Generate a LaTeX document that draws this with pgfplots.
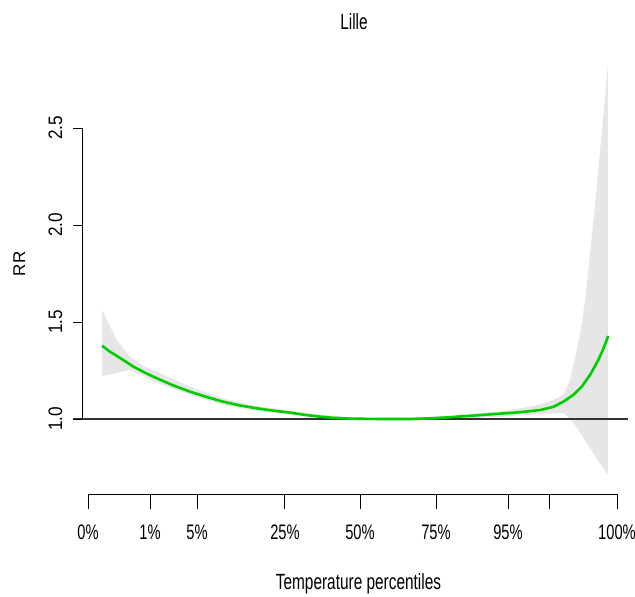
\documentclass[border=0pt]{standalone}
\usepackage{pgfplots}
\pgfplotsset{compat=1.18}
\usepgfplotslibrary{fillbetween}
\usepackage{fontspec}
\setmainfont{Liberation Sans}
\newfontfamily\narrowfont[FakeStretch=0.7]{Liberation Sans}
\newfontfamily\ticklabelfont[FakeStretch=0.88]{Liberation Sans}
\definecolor{bandgrey}{HTML}{E6E6E6}
\definecolor{curvegreen}{HTML}{00CD00}
\definecolor{refline}{HTML}{333333}

% relative risk curve (temperature, RR)
\pgfplotstableread{
T RR
-8.00 1.378
-7.43 1.347
-6.48 1.304
-5.76 1.270
-4.90 1.238
-4.09 1.210
-2.90 1.173
-1.71 1.141
-0.50 1.113
0.66 1.089
1.85 1.070
3.05 1.055
4.24 1.043
5.43 1.033
6.50 1.021
7.57 1.012
8.50 1.006
9.71 1.002
11.86 1.000
14.00 1.000
15.64 1.004
16.86 1.009
17.79 1.014
19.00 1.020
19.93 1.025
21.14 1.031
21.86 1.035
23.29 1.046
24.24 1.063
24.95 1.089
25.66 1.124
26.26 1.166
26.86 1.227
27.45 1.304
27.80 1.360
28.16 1.428
}\rrcurve

% upper confidence limit
\pgfplotstableread{
T RR
-8.00 1.562
-7.43 1.476
-6.95 1.407
-6.00 1.321
-5.07 1.275
-4.09 1.244
-1.71 1.166
0.66 1.106
3.05 1.067
5.43 1.043
7.57 1.022
9.71 1.008
11.86 1.004
14.00 1.006
16.14 1.014
18.29 1.026
20.43 1.040
21.86 1.055
23.29 1.075
24.21 1.098
24.93 1.124
25.43 1.200
25.79 1.320
26.14 1.430
26.50 1.610
26.86 1.850
27.21 2.100
27.57 2.380
27.86 2.600
28.14 2.830
}\rrupper

% lower confidence limit
\pgfplotstableread{
T RR
-8.00 1.222
-7.00 1.235
-6.00 1.253
-5.07 1.222
-4.09 1.187
-1.71 1.124
0.66 1.072
3.05 1.042
5.43 1.024
7.57 1.006
9.71 0.997
11.86 0.993
14.00 0.993
16.14 0.997
18.29 1.004
20.43 1.012
21.86 1.018
23.29 1.025
24.21 1.030
24.93 1.030
25.21 1.015
25.79 0.970
26.50 0.890
27.21 0.810
28.14 0.710
}\rrlower

\newcommand{\xlab}[2]{\node[anchor=base, inner sep=0pt,
  font=\narrowfont\fontsize{21bp}{24bp}\selectfont] at (axis cs:#1,0.3763) {#2};}
\newcommand{\ylab}[1]{\node[rotate=90, anchor=base, inner sep=0pt,
  font=\ticklabelfont\fontsize{19.5bp}{22bp}\selectfont] at (axis cs:-10.857,#1) {#1};}

\begin{document}
\begin{tikzpicture}
\begin{axis}[
  hide axis,
  scale only axis,
  width=546bp, height=444bp,
  xmin=-9.4286, xmax=29.5714,
  ymin=0.6134, ymax=2.9021,
  clip=false,
]
% confidence band
\addplot[name path=upper, draw=none, forget plot] table[x=T, y=RR] {\rrupper};
\addplot[name path=lower, draw=none, forget plot] table[x=T, y=RR] {\rrlower};
\addplot[fill=bandgrey, draw=none, forget plot] fill between[of=upper and lower];

% reference line at RR = 1
\addplot[refline, line width=1.4bp, forget plot] coordinates {(-10.071,1) (29.571,1)};

% RR curve
\addplot[curvegreen, line width=2.6bp, line join=round] table[x=T, y=RR] {\rrcurve};

% y axis
\draw[line width=1bp] (axis cs:-9.4286,1.0) -- (axis cs:-9.4286,2.5);
\pgfplotsinvokeforeach{1.0,1.5,2.0,2.5}{
  \draw[line width=1bp] (axis cs:-10.071,#1) -- (axis cs:-9.4286,#1);
}
\ylab{1.0}\ylab{1.5}\ylab{2.0}\ylab{2.5}
\node[rotate=90, anchor=base, inner sep=0pt,
  font=\fontsize{17bp}{20bp}\selectfont] at (axis cs:-13.5,1.799) {RR};

% x axis at percentile positions
\draw[line width=1bp] (axis cs:-9.0,0.6134) -- (axis cs:28.786,0.6134);
\pgfplotsinvokeforeach{-9.0,-4.571,-1.214,5.071,10.429,15.857,21.0,23.929,28.786}{
  \draw[line width=1bp] (axis cs:#1,0.6134) -- (axis cs:#1,0.5361);
}
\xlab{-9.0}{0\%}
\xlab{-4.571}{1\%}
\xlab{-1.214}{5\%}
\xlab{5.071}{25\%}
\xlab{10.429}{50\%}
\xlab{15.857}{75\%}
\xlab{21.0}{95\%}
\xlab{28.786}{100\%}
\node[anchor=base, inner sep=0pt,
  font=\narrowfont\fontsize{22bp}{26bp}\selectfont] at (axis cs:10.32,0.1237) {Temperature percentiles};

% title
\node[anchor=base, inner sep=0pt,
  font=\narrowfont\fontsize{22bp}{26bp}\selectfont] at (axis cs:10.0,3.010) {Lille};
\end{axis}
\pgfresetboundingbox
\path[use as bounding box] (-82bp,-103bp) rectangle (553bp,494bp);
\end{tikzpicture}
\end{document}
